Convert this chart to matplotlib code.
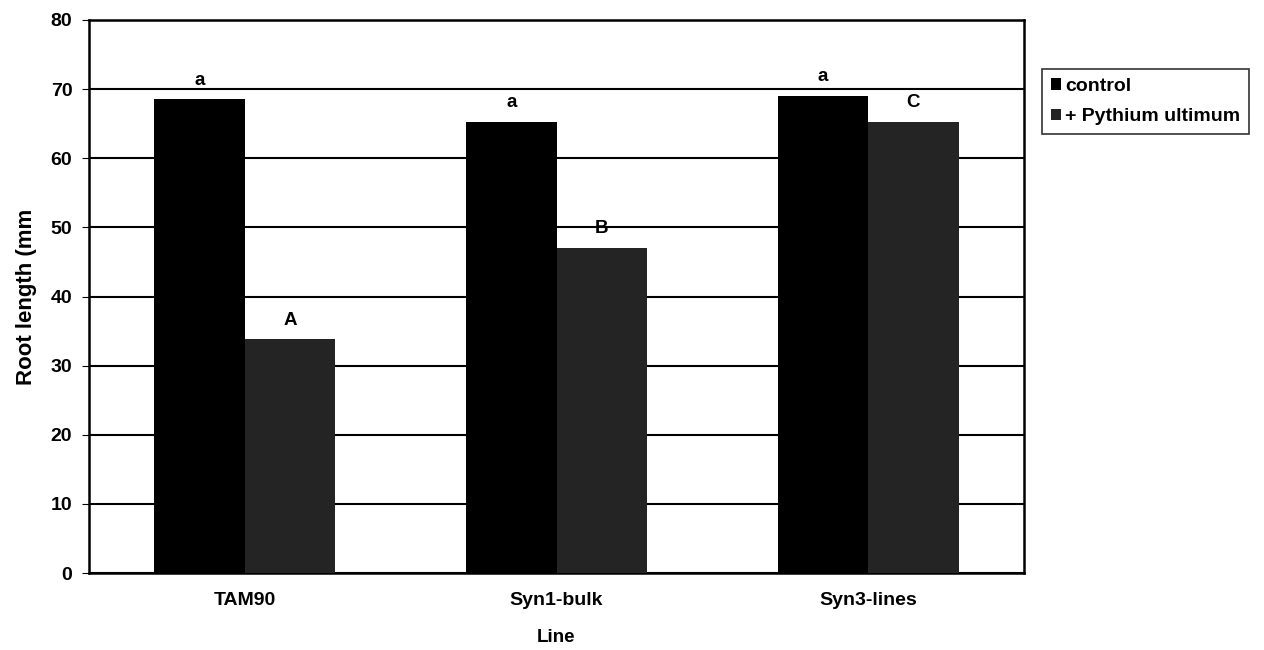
import matplotlib
matplotlib.use("Agg")
import matplotlib.pyplot as plt
import numpy as np

categories = ["TAM90", "Syn1-bulk", "Syn3-lines"]
control = [68.5, 65.3, 69.0]
pythium = [33.8, 47.0, 65.3]
control_letters = ["a", "a", "a"]
pythium_letters = ["A", "B", "C"]
series_names = ["control", "+ Pythium ultimum"]
yticks = [0, 10, 20, 30, 40, 50, 60, 70, 80]

plt.rcParams['font.family'] = ['Liberation Sans', 'DejaVu Sans']
plt.rcParams['font.weight'] = 'bold'

fig = plt.figure(figsize=(12.64, 6.5), dpi=100)
ax = fig.add_axes([89/1264, 1-573/650, (1024-89)/1264, (573-20)/650])

x = np.arange(len(categories))
w = 0.29
b1 = ax.bar(x - w/2, control, w, color='black', label=series_names[0], zorder=3)
b2 = ax.bar(x + w/2, pythium, w, color='#242424', label=series_names[1], zorder=3)

for xi, v, t in zip(x - w/2, control, control_letters):
    ax.text(xi, v + 2.8, t, ha='center', va='center', fontsize=13.5, fontweight='bold')
for xi, v, t in zip(x + w/2, pythium, pythium_letters):
    ax.text(xi, v + 2.8, t, ha='center', va='center', fontsize=13.5, fontweight='bold')

ax.set_xlim(-0.5, len(categories) - 0.5)
ax.set_ylim(0, 80)
ax.set_yticks(yticks)
ax.set_yticklabels([str(t) for t in yticks], fontsize=14, fontweight='bold')
ax.set_xticks(x)
ax.set_xticklabels(categories, fontsize=14, fontweight='bold')
ax.tick_params(axis='x', length=0, pad=14)
ax.tick_params(axis='y', length=5, direction='out', pad=7)
ax.yaxis.grid(True, color='black', linewidth=1.5, zorder=0)
ax.set_axisbelow(True)
for s in ax.spines.values():
    s.set_color('black')
    s.set_linewidth(1.8)

ax.set_ylabel("Root length (mm", fontsize=16, fontweight='bold', labelpad=10)
ax.set_xlabel("Line", fontsize=13.5, fontweight='bold', labelpad=14)

leg = fig.legend(handles=[b1, b2], labels=series_names, loc='upper left',
                 bbox_to_anchor=(1042/1264, 1-69/650), frameon=True,
                 fancybox=False, edgecolor='black', fontsize=14,
                 handlelength=0.55, handleheight=0.55, handletextpad=0.2,
                 borderpad=0.45, labelspacing=0.7, borderaxespad=0)
leg.get_frame().set_linewidth(1.2)

fig.savefig("out.png", dpi=100)
